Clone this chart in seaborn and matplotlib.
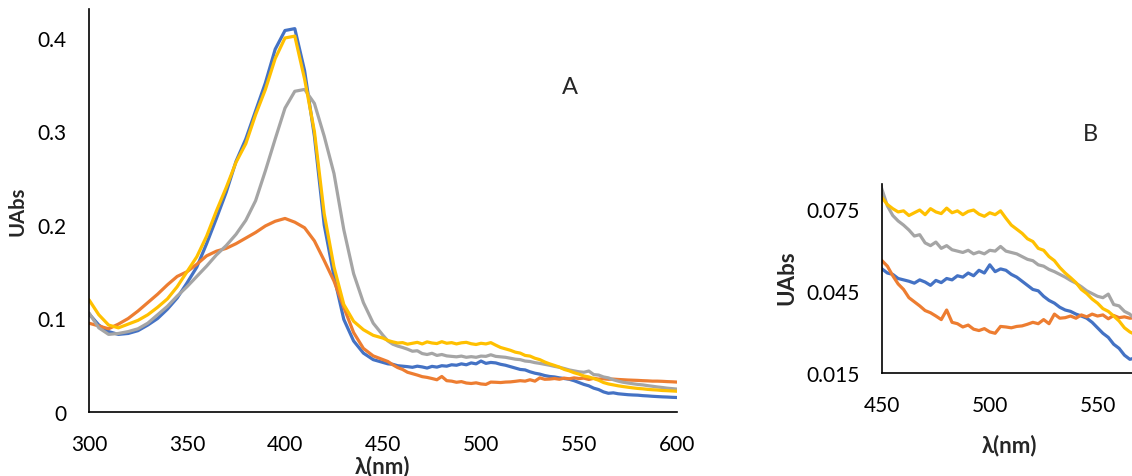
import numpy as np
import pandas as pd
import matplotlib
matplotlib.use("Agg")
import matplotlib.pyplot as plt
import seaborn as sns

# wavelength grid (nm)
wl = np.concatenate([np.arange(300, 450, 5.0), np.arange(450, 600.01, 2.5)])

blue = [0.105, 0.093, 0.086, 0.083, 0.084, 0.087, 0.093, 0.100, 0.110, 0.122,
        0.138, 0.155, 0.180, 0.207, 0.235, 0.268, 0.292, 0.322, 0.352, 0.388,
        0.408, 0.410, 0.365, 0.295, 0.200, 0.145, 0.099, 0.076, 0.063, 0.056,
        0.0530, 0.0515, 0.0510, 0.0495,
        0.0490, 0.0485, 0.0478, 0.0490, 0.0482, 0.0470, 0.0488, 0.0480,
        0.0495, 0.0490, 0.0505, 0.0500, 0.0515, 0.0505, 0.0525, 0.0515,
        0.0545, 0.0520, 0.0530, 0.0525, 0.0510, 0.0500, 0.0485, 0.0470,
        0.0455, 0.0450, 0.0430, 0.0415, 0.0405, 0.0390, 0.0380, 0.0375,
        0.0365, 0.0358, 0.0350, 0.0335, 0.0315, 0.0295, 0.0280, 0.0255,
        0.0240, 0.0215, 0.0200, 0.0205, 0.0195, 0.0190, 0.0185, 0.0182,
        0.0180, 0.0175, 0.0172, 0.0168, 0.0165, 0.0162, 0.0160, 0.0157,
        0.0155]

orange = [0.095, 0.092, 0.089, 0.094, 0.100, 0.108, 0.117, 0.126, 0.136, 0.145,
          0.150, 0.158, 0.167, 0.172, 0.175, 0.180, 0.186, 0.192, 0.199, 0.204,
          0.207, 0.203, 0.197, 0.183, 0.162, 0.140, 0.112, 0.085, 0.068, 0.060,
          0.0560, 0.0540, 0.0505, 0.0475,
          0.0455, 0.0425, 0.0410, 0.0395, 0.0378, 0.0370, 0.0358, 0.0345,
          0.0380, 0.0335, 0.0330, 0.0318, 0.0325, 0.0310, 0.0305, 0.0312,
          0.0300, 0.0295, 0.0320, 0.0318, 0.0315, 0.0320, 0.0322, 0.0328,
          0.0335, 0.0330, 0.0345, 0.0330, 0.0365, 0.0350, 0.0352, 0.0358,
          0.0350, 0.0362, 0.0355, 0.0365, 0.0358, 0.0362, 0.0348, 0.0360,
          0.0352, 0.0355, 0.0350, 0.0352, 0.0348, 0.0345, 0.0342, 0.0340,
          0.0338, 0.0335, 0.0333, 0.0330, 0.0330, 0.0328, 0.0325, 0.0323,
          0.0320]

gray = [0.106, 0.090, 0.083, 0.084, 0.086, 0.089, 0.095, 0.104, 0.113, 0.124,
        0.134, 0.145, 0.156, 0.168, 0.178, 0.190, 0.205, 0.226, 0.258, 0.292,
        0.325, 0.343, 0.345, 0.330, 0.295, 0.255, 0.195, 0.148, 0.117, 0.095,
        0.0820, 0.0760, 0.0725, 0.0705,
        0.0690, 0.0672, 0.0650, 0.0655, 0.0625, 0.0615, 0.0628, 0.0605,
        0.0615, 0.0600, 0.0595, 0.0590, 0.0598, 0.0585, 0.0592, 0.0585,
        0.0598, 0.0595, 0.0612, 0.0595, 0.0590, 0.0585, 0.0575, 0.0565,
        0.0560, 0.0545, 0.0540, 0.0528, 0.0520, 0.0510, 0.0500, 0.0488,
        0.0478, 0.0465, 0.0450, 0.0440, 0.0430, 0.0425, 0.0438, 0.0400,
        0.0395, 0.0375, 0.0365, 0.0345, 0.0330, 0.0318, 0.0310, 0.0302,
        0.0295, 0.0290, 0.0282, 0.0275, 0.0268, 0.0262, 0.0255, 0.0250,
        0.0245]

yellow = [0.120, 0.104, 0.093, 0.090, 0.094, 0.098, 0.104, 0.112, 0.121, 0.134,
          0.150, 0.166, 0.188, 0.215, 0.240, 0.267, 0.287, 0.318, 0.345, 0.378,
          0.400, 0.402, 0.356, 0.300, 0.212, 0.155, 0.115, 0.097, 0.088, 0.082,
          0.0790, 0.0765, 0.0750, 0.0738,
          0.0742, 0.0725, 0.0735, 0.0745, 0.0728, 0.0750, 0.0738, 0.0732,
          0.0752, 0.0735, 0.0742, 0.0728, 0.0740, 0.0745, 0.0730, 0.0722,
          0.0735, 0.0728, 0.0742, 0.0715, 0.0690, 0.0675, 0.0660, 0.0640,
          0.0630, 0.0605, 0.0598, 0.0575, 0.0560, 0.0535, 0.0515, 0.0498,
          0.0480, 0.0455, 0.0440, 0.0420, 0.0405, 0.0385, 0.0375, 0.0358,
          0.0340, 0.0315, 0.0300, 0.0290, 0.0280, 0.0272, 0.0265, 0.0258,
          0.0252, 0.0248, 0.0242, 0.0238, 0.0235, 0.0230, 0.0228, 0.0225,
          0.0222]

series_names = ["s1", "s2", "s3", "s4"]
colors = ["#4472C4", "#ED7D31", "#A5A5A5", "#FFC000"]

xticks_a = [300, 350, 400, 450, 500, 550, 600]
yticks_a = [0, 0.1, 0.2, 0.3, 0.4]
yticklabels_a = ["0", "0.1", "0.2", "0.3", "0.4"]
xticks_b = [450, 500, 550]
yticks_b = [0.015, 0.045, 0.075]
yticklabels_b = ["0.015", "0.045", "0.075"]

df = pd.concat([pd.DataFrame({"wl": wl, "abs": v, "series": n})
                for v, n in zip([blue, orange, gray, yellow], series_names)])

sns.set_style("white")
plt.rcParams["font.family"] = ["Lato", "DejaVu Sans"]

W, H = 1132, 477
fig = plt.figure(figsize=(W / 100, H / 100), dpi=100)

def px_axes(x0, y0, x1, y1):
    return fig.add_axes([x0 / W, 1 - y1 / H, (x1 - x0) / W, (y1 - y0) / H])

axA = px_axes(89, 10, 677, 413)
axB = px_axes(882, 185, 1132, 374)

for ax in (axA, axB):
    sns.lineplot(data=df, x="wl", y="abs", hue="series", hue_order=series_names,
                 palette=colors, linewidth=2.3, legend=False, ax=ax,
                 estimator=None, sort=False)
    for s in ("top", "right"):
        ax.spines[s].set_visible(False)
    for s in ("left", "bottom"):
        ax.spines[s].set_color("black")
        ax.spines[s].set_linewidth(1.2)
    ax.tick_params(length=0, labelsize=15, colors="black")
    ax.set_xlabel("λ(nm)", fontsize=16, fontweight="bold")

axA.set_ylabel("UAbs", fontsize=14.5, fontweight="bold")
axB.set_ylabel("UAbs", fontsize=16, fontweight="bold")

axA.set_xlim(300, 600)
axA.set_ylim(0, 0.431)
axA.set_xticks(xticks_a)
axA.set_yticks(yticks_a)
axA.set_yticklabels(yticklabels_a)
axA.tick_params(axis="x", pad=16)
axA.tick_params(axis="y", pad=16)
axA.xaxis.set_label_coords(0.5, -0.106)
axA.yaxis.set_label_coords(-0.104, 0.5)

axB.set_xlim(450, 566)
axB.set_ylim(0.015, 0.084)
axB.set_xticks(xticks_b)
axB.set_yticks(yticks_b)
axB.set_yticklabels(yticklabels_b)
axB.tick_params(axis="x", pad=16)
axB.tick_params(axis="y", pad=16)
axB.xaxis.set_label_coords(0.512, -0.323)
axB.yaxis.set_label_coords(-0.34, 0.508)

fig.text(570 / W, 1 - 88 / H, "A", fontsize=17, ha="center", va="center")
fig.text(1090 / W, 1 - 135 / H, "B", fontsize=17, ha="center", va="center")

fig.savefig("out.png", dpi=100)
